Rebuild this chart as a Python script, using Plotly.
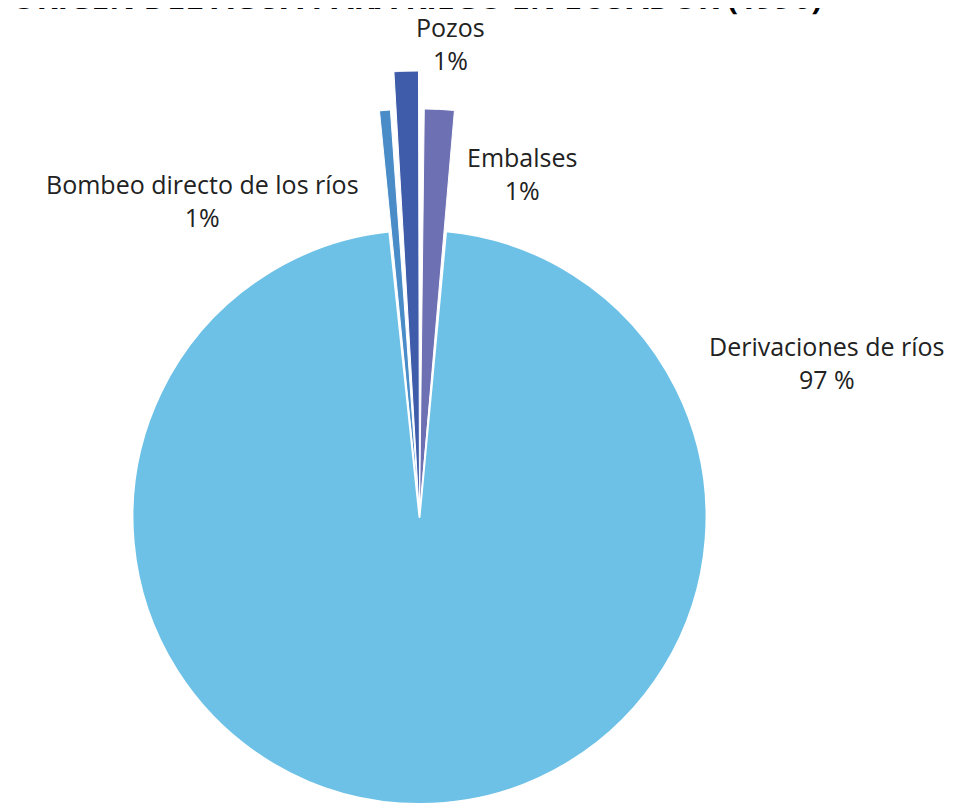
import plotly.graph_objects as go

# datos (porcentaje del agua para riego por origen)
labels = ["Embalses", "Derivaciones de ríos", "Bombeo directo de los ríos", "Pozos"]
values = [1.4, 96.85, 0.65, 1.1]
text_labels = ["1%", "97 %", "1%", "1%"]
title_text = "ORIGEN DEL AGUA PARA RIEGO EN ECUADOR (1996)"

# estilo
colors = ["#6E70B4", "#6DC1E6", "#4A8CC8", "#3F5CAA"]
reach = [0.915, 0.0, 0.915, 1.0]   # largo de las porciones separadas
rotation = 0.27
gap_deg = 0.8
W, H = 954, 803
OX, OY = 8, 7          # margen del body de la pagina
font = "Open Sans"


def px(x, y):
    # pixel de la pagina -> coordenadas paper
    return (x - OX) / W, 1 - (y - OY) / H


# angulos de cada porcion (desde las 12, sentido horario)
total = sum(values)
starts, widths = [], []
acc = rotation
for v in values:
    w = v / total * 360
    starts.append(acc)
    widths.append(w)
    acc += w
centers = [s + w / 2 for s, w in zip(starts, widths)]

cx, cy, r = 419.5, 516, 287

fig = go.Figure()

# porcion principal
x0, y1 = px(cx - r, cy + r)
x1, y0 = px(cx + r, cy - r)
fig.add_trace(go.Pie(
    labels=labels,
    values=values,
    sort=False,
    direction="clockwise",
    rotation=rotation,
    textinfo="none",
    hoverinfo="label+percent",
    marker=dict(
        colors=[c if i == 1 else "rgba(0,0,0,0)" for i, c in enumerate(colors)],
        line=dict(color="white", width=[0, 2, 0, 0]),
    ),
    domain=dict(x=[x0, x1], y=[max(y1, 0), y0]),
    showlegend=False,
))

# porciones pequeñas separadas
small = [i for i in range(len(labels)) if i != 1]
fig.add_trace(go.Barpolar(
    theta=[centers[i] for i in small],
    r=[reach[i] for i in small],
    width=[widths[i] - gap_deg for i in small],
    marker=dict(color=[colors[i] for i in small], line=dict(color="white", width=1)),
    text=[labels[i] for i in small],
    hoverinfo="text",
    showlegend=False,
))

px0, py0 = px(cx - 150, cy)
px1, py1 = px(cx + 150, 70)
fig.update_layout(
    width=W, height=H,
    margin=dict(l=0, r=0, t=0, b=0),
    paper_bgcolor="white",
    font=dict(family=font, color="#222222", size=25),
    polar=dict(
        domain=dict(x=[px0, px1], y=[py0, py1]),
        sector=[80, 100],
        bgcolor="rgba(0,0,0,0)",
        angularaxis=dict(visible=False, rotation=90, direction="clockwise"),
        radialaxis=dict(visible=False, range=[0, 1]),
    ),
)

# etiquetas
label_pos = {
    "Pozos": (450, 43),
    "Embalses": (522, 173),
    "Bombeo directo de los ríos": (202, 200),
    "Derivaciones de ríos": (827, 361),
}
for lab, txt in zip(labels, text_labels):
    ax, ay = px(*label_pos[lab])
    fig.add_annotation(
        x=ax, y=ay, xref="paper", yref="paper",
        text=f"{lab}<br>{txt}", showarrow=False,
        xanchor="center", yanchor="middle", align="center",
        font=dict(family=font, size=25, color="#222222"),
    )

tx, ty = px(416, 19)
fig.add_annotation(
    x=tx, y=ty, xref="paper", yref="paper",
    text=f"<b>{title_text}</b>", showarrow=False,
    xanchor="center", yanchor="bottom",
    font=dict(family=font, size=32, color="black"),
)

fig.write_html("out.html")
